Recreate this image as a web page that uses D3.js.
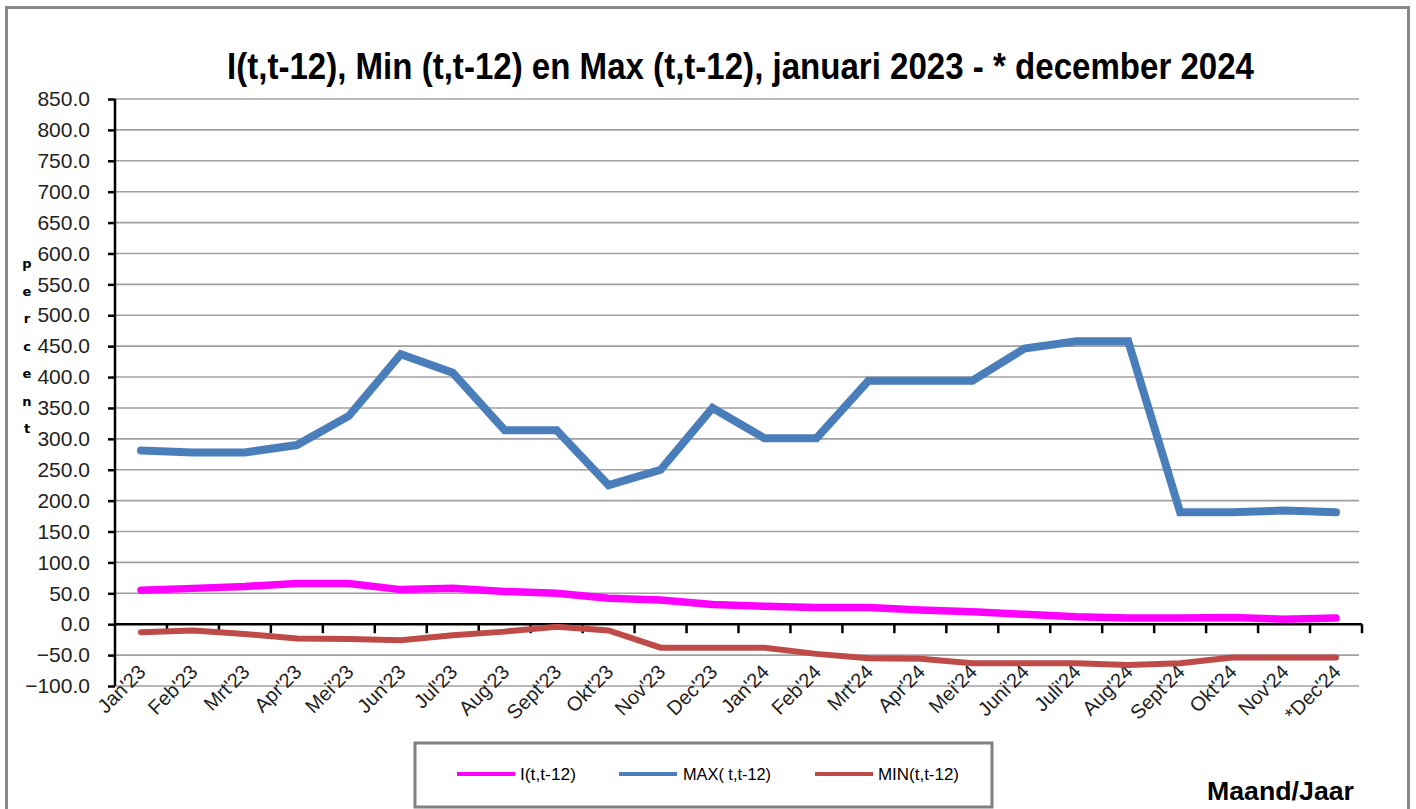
<!DOCTYPE html>
<html>
<head>
<meta charset="utf-8">
<script src="https://cdn.jsdelivr.net/npm/d3@7"></script>
<style>
    html, body { margin: 0; padding: 0; background: #ffffff; }
    svg { display: block; }
</style>
</head>
<body>
<svg id="chart" width="1416" height="809"></svg>
<script>
const categories = ["Jan'23", "Feb'23", "Mrt'23", "Apr'23", "Mei'23", "Jun'23", "Jul'23", "Aug'23",
    "Sept'23", "Okt'23", "Nov'23", "Dec'23", "Jan'24", "Feb'24", "Mrt'24", "Apr'24", "Mei'24",
    "Juni'24", "Juli'24", "Aug'24", "Sept'24", "Okt'24", "Nov'24", "*Dec'24"];

const iValues = [55, 58, 61, 66, 66, 56, 58, 53, 50, 42, 39, 32, 29, 27, 27, 23, 20, 16, 12, 10, 10, 11, 8, 10];
const maxValues = [281, 278, 278, 290, 337, 437, 407, 314, 314, 225, 250, 350, 301, 301, 394, 394, 394, 446, 458, 458, 181, 181, 184, 181];
const minValues = [-13, -10, -16, -23, -24, -26, -18, -12, -4, -10, -38, -38, -38, -48, -55, -56, -63, -63, -63, -66, -63, -54, -54, -54];

const yTicks = d3.range(-100, 851, 50);

const series = [
    { name: 'I(t,t-12)', values: iValues, color: '#ff00ff', width: 7.5 },
    { name: 'MAX( t,t-12)', values: maxValues, color: '#4a7ebb', width: 8 },
    { name: 'MIN(t,t-12)', values: minValues, color: '#be4b48', width: 6 }
];

const svg = d3.select('#chart');
const plot = { left: 115, right: 1362, top: 99, bottom: 686 };
const tickFont = '"Liberation Sans", Arial, sans-serif';

// outer frame (bottom edge falls outside the picture)
svg.append('path')
    .attr('d', 'M6.5,812 V7.5 H1408.5 V812')
    .attr('fill', 'none')
    .attr('stroke', '#888888')
    .attr('stroke-width', 3);

const x = d3.scaleBand()
    .domain(categories)
    .range([plot.left, plot.right]);

const y = d3.scaleLinear()
    .domain([-100, 850])
    .range([plot.bottom, plot.top]);

// gridlines
svg.append('g')
    .selectAll('line')
    .data(yTicks)
    .enter()
    .append('line')
    .attr('x1', plot.left)
    .attr('x2', plot.right - 3)
    .attr('y1', d => y(d))
    .attr('y2', d => y(d))
    .attr('stroke', '#a0a0a0')
    .attr('stroke-width', 1.6);

// y axis
const yAxis = svg.append('g')
    .attr('transform', `translate(${plot.left},0)`)
    .call(d3.axisLeft(y).tickValues(yTicks).tickFormat(d3.format('.1f')).tickSize(7).tickPadding(18));

yAxis.select('.domain')
    .attr('d', `M0,${plot.top}V${plot.bottom}`)
    .attr('stroke', '#000')
    .attr('stroke-width', 2.5);
yAxis.selectAll('.tick line').attr('stroke', '#000').attr('stroke-width', 2.5);
yAxis.selectAll('.tick text')
    .attr('fill', '#222')
    .style('font-family', tickFont)
    .style('font-size', '21px');

// x axis along the zero line, ticks on the category boundaries
const zeroY = y(0);
const xAxis = svg.append('g');

xAxis.append('line')
    .attr('x1', plot.left)
    .attr('x2', plot.right)
    .attr('y1', zeroY)
    .attr('y2', zeroY)
    .attr('stroke', '#000')
    .attr('stroke-width', 2.5);

xAxis.selectAll('line.boundary')
    .data(categories)
    .enter()
    .append('line')
    .attr('class', 'boundary')
    .attr('x1', d => x(d) + x.bandwidth())
    .attr('x2', d => x(d) + x.bandwidth())
    .attr('y1', zeroY)
    .attr('y2', zeroY + 9)
    .attr('stroke', '#000')
    .attr('stroke-width', 2.5);

xAxis.selectAll('text')
    .data(categories)
    .enter()
    .append('text')
    .attr('transform', d => `translate(${x(d) + x.bandwidth() / 2 + 6},${zeroY + 49}) rotate(-45)`)
    .attr('text-anchor', 'end')
    .attr('fill', '#222')
    .style('font-family', tickFont)
    .style('font-size', '20px')
    .text(d => d);

// series lines
const line = values => d3.line()
    .x((d, i) => x(categories[i]) + x.bandwidth() / 2)
    .y(d => y(d))(values);

svg.append('g')
    .selectAll('path')
    .data(series)
    .enter()
    .append('path')
    .attr('d', d => line(d.values))
    .attr('fill', 'none')
    .attr('stroke', d => d.color)
    .attr('stroke-width', d => d.width)
    .attr('stroke-linecap', 'round')
    .attr('stroke-linejoin', 'miter');

// title
svg.append('text')
    .attr('x', 227)
    .attr('y', 79)
    .attr('textLength', 1027)
    .attr('lengthAdjust', 'spacingAndGlyphs')
    .style('font-family', '"Liberation Sans", Arial, sans-serif')
    .style('font-weight', 'bold')
    .style('font-size', '36px')
    .text('I(t,t-12), Min (t,t-12) en Max (t,t-12), januari 2023 - * december  2024');

// vertical "percent" label
svg.append('g')
    .selectAll('text')
    .data('percent'.split(''))
    .enter()
    .append('text')
    .attr('x', 27)
    .attr('y', (d, i) => 268 + i * 27.5)
    .attr('text-anchor', 'middle')
    .style('font-family', '"DejaVu Sans", sans-serif')
    .style('font-weight', 'bold')
    .style('font-size', '13px')
    .text(d => d);

// legend
const legend = svg.append('g');
legend.append('rect')
    .attr('x', 415)
    .attr('y', 743)
    .attr('width', 577)
    .attr('height', 64)
    .attr('fill', '#fff')
    .attr('stroke', '#808080')
    .attr('stroke-width', 3);

const legendItems = [
    { lineX: 457, textX: 520, textW: 56 },
    { lineX: 619, textX: 683, textW: 88 },
    { lineX: 815, textX: 878, textW: 81 }
];

legendItems.forEach((item, i) => {
    legend.append('line')
        .attr('x1', item.lineX)
        .attr('x2', item.lineX + 58)
        .attr('y1', 774)
        .attr('y2', 774)
        .attr('stroke', series[i].color)
        .attr('stroke-width', 4);
    legend.append('text')
        .attr('x', item.textX)
        .attr('y', 780)
        .attr('textLength', item.textW)
        .attr('lengthAdjust', 'spacingAndGlyphs')
        .style('font-family', tickFont)
        .style('font-size', '17px')
        .text(series[i].name);
});

svg.append('text')
    .attr('x', 1207)
    .attr('y', 800)
    .attr('textLength', 147)
    .attr('lengthAdjust', 'spacingAndGlyphs')
    .style('font-family', '"Liberation Sans", Arial, sans-serif')
    .style('font-weight', 'bold')
    .style('font-size', '26px')
    .text('Maand/Jaar');
</script>
</body>
</html>
